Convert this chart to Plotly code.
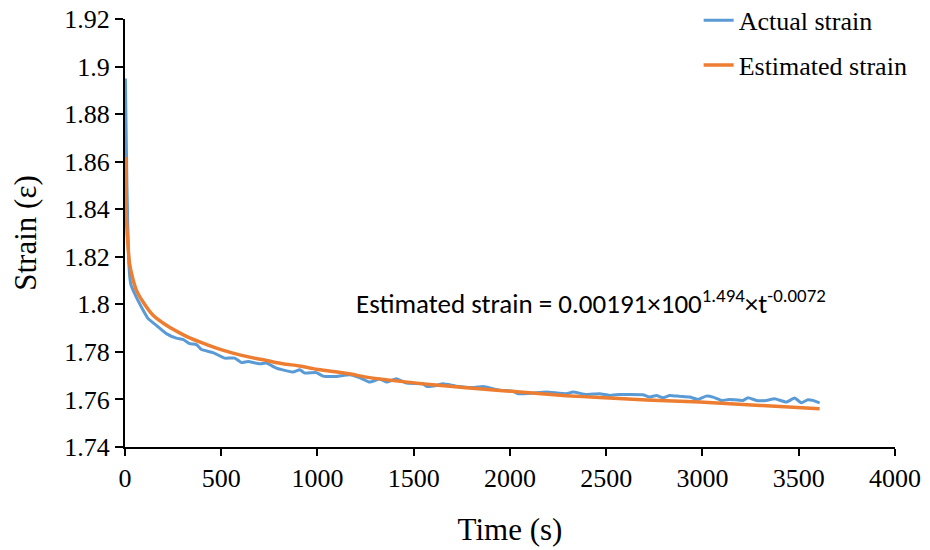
import plotly.graph_objects as go

# Actual strain readings (time in s, strain)
actual_t = [2, 10, 20, 30, 50, 85, 120, 163, 215, 267, 301, 336, 371, 397, 457, 518, 570, 605,
            639, 700, 735, 786, 873, 908, 934, 994, 1029, 1098, 1167, 1219, 1271, 1323, 1358,
            1410, 1462, 1548, 1566, 1618, 1652, 1721, 1808, 1860, 1947, 2016, 2042, 2120, 2189,
            2293, 2327, 2397, 2466, 2518, 2570, 2622, 2691, 2726, 2761, 2795, 2830, 2882, 2934,
            2977, 3020, 3055, 3098, 3141, 3211, 3237, 3280, 3332, 3375, 3436, 3479, 3514, 3548,
            3574, 3609]
actual_v = [1.895, 1.850, 1.817, 1.8085, 1.8045, 1.7989, 1.794, 1.7912, 1.7877, 1.7858, 1.7853,
            1.7835, 1.7831, 1.781, 1.7797, 1.7774, 1.7774, 1.7755, 1.7760, 1.7750, 1.7753, 1.7732,
            1.7715, 1.7725, 1.7711, 1.7713, 1.7698, 1.7697, 1.7704, 1.7692, 1.7673, 1.7686,
            1.7673, 1.7687, 1.7669, 1.7666, 1.7655, 1.7659, 1.7666, 1.7656, 1.7650, 1.7655,
            1.7639, 1.7635, 1.7624, 1.7627, 1.7631, 1.7624, 1.7631, 1.7621, 1.7624, 1.7617,
            1.7621, 1.7621, 1.7620, 1.7610, 1.7617, 1.7607, 1.7617, 1.7613, 1.7610, 1.7600,
            1.7614, 1.7610, 1.7596, 1.7600, 1.7596, 1.7607, 1.7596, 1.7596, 1.7603, 1.7589,
            1.7606, 1.7586, 1.7599, 1.7596, 1.7586]

# Estimated strain readings
est_t = [2, 8, 16, 24, 40, 59, 94, 146, 215, 301, 388, 475, 561, 648, 735, 821, 908, 994, 1081,
         1167, 1254, 1600, 1947, 2293, 2466, 2709, 2986, 3300, 3609]
est_v = [1.862, 1.835, 1.824, 1.817, 1.811, 1.806, 1.801, 1.7954, 1.7912, 1.7873, 1.7842, 1.7816,
         1.7795, 1.7778, 1.7764, 1.7750, 1.7741, 1.7727, 1.7718, 1.7708, 1.7694, 1.7662, 1.7638,
         1.7616, 1.7608, 1.7598, 1.7589, 1.7575, 1.7561]

x_ticks = [0, 500, 1000, 1500, 2000, 2500, 3000, 3500, 4000]
y_ticks = [1.74, 1.76, 1.78, 1.80, 1.82, 1.84, 1.86, 1.88, 1.90, 1.92]
y_tick_text = ["1.74", "1.76", "1.78", "1.8", "1.82", "1.84", "1.86", "1.88", "1.9", "1.92"]

serif = "Times New Roman, Liberation Serif, serif"

fig = go.Figure()
fig.add_trace(go.Scatter(x=actual_t, y=actual_v, mode="lines", name="Actual strain",
                         legendgroup="a", line=dict(color="#5B9BD5", width=3, shape="spline", smoothing=0.4)))
fig.add_trace(go.Scatter(x=est_t, y=est_v, mode="lines", name="Estimated strain",
                         legendgroup="b", line=dict(color="#ED7D31", width=3.5, shape="spline", smoothing=0.6)))

fig.update_layout(
    width=930, height=550,
    margin=dict(l=125, r=35, t=19, b=103, autoexpand=False),
    paper_bgcolor="white", plot_bgcolor="white",
    font=dict(family=serif, size=26, color="black"),
    legend=dict(x=0.745, y=1.052, xanchor="left", yanchor="top", tracegroupgap=8,
                font=dict(family=serif, size=26), bgcolor="rgba(0,0,0,0)"),
    xaxis=dict(range=[0, 4000.5], tickvals=x_ticks, showgrid=False, zeroline=False, automargin=False,
               showline=True, linecolor="black", linewidth=2, ticks="outside", ticklen=7,
               tickwidth=2, tickcolor="black", tickfont=dict(family=serif, size=26),
               ticklabeloverflow="allow",
               title=dict(text="Time (s)", font=dict(family=serif, size=31), standoff=26)),
    yaxis=dict(range=[1.74, 1.92005], tickvals=y_ticks, ticktext=y_tick_text, showgrid=False,
               automargin=False, ticklabeloverflow="allow",
               zeroline=False, showline=True, linecolor="black", linewidth=2, ticks="outside",
               ticklen=8, tickwidth=2, tickcolor="black", tickfont=dict(family=serif, size=26),
               title=dict(text="Strain (ε)", font=dict(family=serif, size=31), standoff=18)),
    annotations=[dict(
        x=0.605, y=1.801, xref="paper", yref="y", xanchor="center", yanchor="middle",
        text="Estimated strain = 0.00191×100<sup>1.494</sup>×t<sup>-0.0072</sup>",
        showarrow=False, font=dict(family="Carlito, Lato, sans-serif", size=27, color="black"))],
)

fig.write_html("out.html", config={"displayModeBar": False},
               post_script="document.body.style.margin='0';")
